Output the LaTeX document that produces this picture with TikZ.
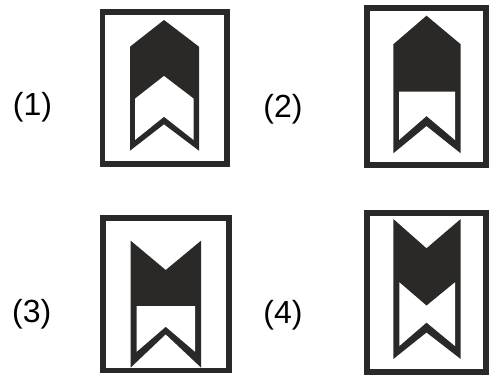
\documentclass[tikz,border=0pt]{standalone}
\usepackage{fontspec}
\setmainfont{Liberation Sans}
\definecolor{ink}{RGB}{42,41,39}
\begin{document}
\begin{tikzpicture}[x=1pt,y=-1pt,
  frame/.style={draw=ink,line width=5.7pt},
  darkpart/.style={fill=ink},
  lightpart/.style={fill=white},
  lbl/.style={inner sep=0pt,font=\fontsize{32}{32}\selectfont,text=black}]
\useasboundingbox (0,0) rectangle (489,375);
% ---------- (1)
\draw[frame] (102.5,11.8) rectangle (226.8,164.2);
\fill[darkpart] (130,46.7) -- (164,20) -- (199,46.7) -- (199,150.7) -- (164,124.3) -- (130,150.7) -- cycle;
\fill[lightpart] (135,98.7) -- (164,76) -- (193.7,98.7) -- (193.7,140) -- (164,116.7) -- (135,140) -- cycle;
\node[lbl] (l1) at (32.5,107.5) {(1)};
% ---------- (2)
\draw[frame] (367.2,7.7) rectangle (485.8,165.3);
\fill[darkpart] (393.3,44.3) -- (426.5,15.7) -- (460.7,44.3) -- (460.7,153.3) -- (426.5,126) -- (393.3,153.3) -- cycle;
\fill[lightpart] (399,91.7) -- (455,91.7) -- (455,140) -- (426.5,116) -- (399,140) -- cycle;
\node[lbl] (l2) at (283,109) {(2)};
% ---------- (3)
\draw[frame] (102.8,218.3) rectangle (228.8,370.5);
\fill[darkpart] (130.7,240.7) -- (165.7,270) -- (201,240.7) -- (201,367.5) -- (165.7,334.3) -- (130.7,367.5) -- cycle;
\fill[lightpart] (136.7,306) -- (195,306) -- (195,351.7) -- (165.7,326.7) -- (136.7,351.7) -- cycle;
\node[lbl] (l3) at (31.7,314) {(3)};
% ---------- (4)
\draw[frame] (367.2,212.9) rectangle (485.8,371.7);
\fill[darkpart] (393.3,219) -- (426.5,248.3) -- (460.7,219) -- (460.7,359) -- (426.5,332.5) -- (393.3,359) -- cycle;
\fill[lightpart] (399.3,282.3) -- (426.5,305.7) -- (455,282.3) -- (455,346) -- (426.5,322.5) -- (399.3,346) -- cycle;
\node[lbl] (l4) at (283,315) {(4)};
\end{tikzpicture}
\end{document}
